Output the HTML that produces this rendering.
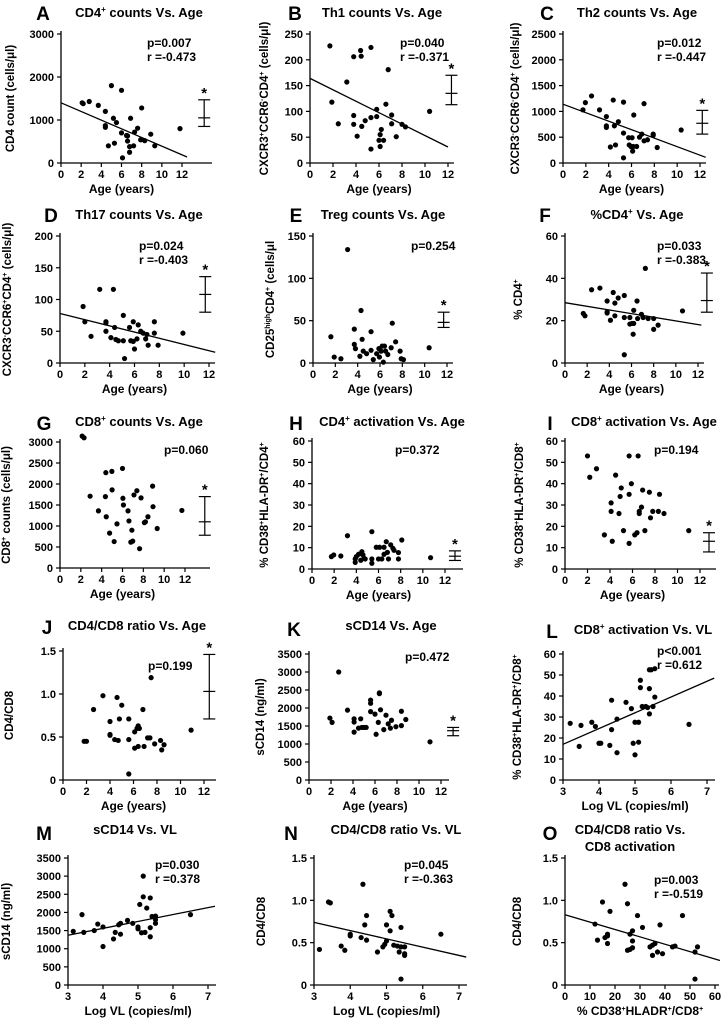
<!DOCTYPE html>
<html><head><meta charset="utf-8"><style>
html,body{margin:0;padding:0;background:#fff}
svg{display:block;font-family:"Liberation Sans",Arial,sans-serif;font-weight:bold}
</style></head><body>
<svg id="fig" width="721" height="1024" viewBox="0 0 721 1024" xmlns="http://www.w3.org/2000/svg"></svg>
<script>
// ---- data ----
const ageA=[2.1,2.2,2.8,3.7,4.4,4.4,4.4,4.7,5.0,5.2,5.3,5.5,6.0,6.0,6.5,6.6,6.6,6.8,6.8,6.9,7.2,7.3,7.6,7.9,8.0,8.3,8.9,9.3,11.8,6.1];
const cd4A=[1400,1380,1430,1340,1200,870,830,400,1800,1040,460,940,1690,700,640,510,630,380,250,1040,400,720,810,540,1280,520,670,400,800,120];
const fitXA=[0,12.5], fitYA=[1400,140];
const barA=[1050,850,1470], barXA=[14.2];

const ageB=[1.73,1.9,2.46,3.2,3.8,3.8,3.8,4.1,4.4,4.45,4.5,4.8,5.3,5.3,5.3,5.8,5.8,6.0,6.1,6.1,6.2,6.4,6.6,6.8,7.1,7.1,7.5,8.0,8.3,10.4];
const th1B=[227,118,76,157,206,92,75,52,218,207,71,82,224,88,27,104,90,44,55,32,65,44,114,181,93,76,51,75,70,100];
const fitXB=[0,12], fitYB=[164,31];
const barB=[135,113,170], barXB=[12.3];

const ageC=[1.75,1.96,2.5,3.2,3.8,3.8,3.8,4.15,4.4,4.5,4.6,4.85,5.3,5.3,5.3,5.75,5.8,5.95,6.05,6.1,6.15,6.2,6.45,6.7,6.9,7.1,7.1,7.4,7.9,7.9,8.25,10.35];
const th2C=[1030,1170,1300,1030,900,720,690,310,1220,720,350,800,1180,580,100,490,350,320,490,230,320,930,320,500,560,430,1150,450,535,560,300,640];
const fitXC=[0,12.5], fitYC=[1140,110];
const barC=[770,560,1020], barXC=[12.2];

const ageD=[1.86,2.0,2.5,3.2,3.7,3.7,3.7,4.1,4.3,4.4,4.5,4.7,5.1,5.1,5.2,5.6,5.7,5.9,5.9,6.0,6.2,6.3,6.5,6.7,6.9,7.0,7.1,7.6,7.6,7.9,9.9];
const th17D=[89,65,42,116,65,63,50,40,116,56,37,35,75,35,7,56,35,65,34,22,38,60,50,47,38,45,28,65,47,28,47];
const fitXD=[0,12.5], fitYD=[78,17];
const barD=[108,80,136], barXD=[11.7];

const ageE=[1.6,1.9,2.5,3.1,3.7,3.7,3.8,4.2,4.3,4.4,4.5,4.8,5.2,5.2,5.4,5.7,5.9,5.95,6.1,6.2,6.4,6.3,6.5,6.7,7.0,7.1,7.4,7.8,7.9,8.1,10.4];
const tregE=[31,7,5,134,40,22,17,8,62,28,14,11,37,15,4,11,17,7,14,20,20,1,14,10,18,47,25,14,5,4,18];
const barE=[48,42,60], barXE=[11.7];

const ageF=[1.65,1.8,2.4,3.15,3.8,3.8,3.8,4.1,4.35,4.5,4.5,4.8,5.35,5.35,5.35,5.85,5.85,6.05,6.15,6.2,6.2,6.5,6.55,6.9,7.05,7.25,7.5,8.0,8.0,8.4,10.6];
const pctF=[23.4,22.3,34.6,35.4,29.3,24.1,23.6,20.2,33.3,28.3,22.3,30.7,31.9,21.5,3.9,21.5,18.4,18.7,13.6,24.9,18.7,29.3,21,23,21.5,44.7,21,21,15.9,17.9,24.6];
const fitXF=[0,12.3], fitYF=[28.5,17.9];
const barF=[29.5,24,42.5], barXF=[12.8];

const ageG=[2.13,2.31,2.89,3.69,4.36,4.44,4.4,4.76,4.98,5.0,5.2,5.47,6.0,6.04,6.09,6.53,6.62,6.8,6.9,6.98,7.1,7.38,7.64,7.78,8.1,8.2,8.44,8.89,8.93,9.33,11.7];
const cd8G=[3140,3100,1710,1360,1700,1220,2270,830,2300,1860,630,1050,2370,1660,1500,1360,1120,616,900,640,1740,1840,460,1670,1080,1100,1220,1950,1460,940,1370];
const barG=[1100,780,1700], barXG=[13.9];

const ageH=[1.75,1.96,2.6,3.2,3.9,3.9,4.0,4.2,4.4,4.5,4.6,4.7,4.8,5.4,5.4,5.4,5.8,6.0,6.1,6.3,6.5,6.5,6.7,6.8,6.9,7.1,7.3,7.4,7.8,7.8,8.1,10.7];
const actH=[5.8,6.6,6.1,15.6,4.7,3.1,5.8,6.9,4.1,8.1,6.6,5.0,4.7,17.5,2.7,4.7,10.2,4.7,10.2,4.7,6.9,10.2,12.8,7.8,4.7,11.3,9.7,8.8,7.7,4.7,13.6,5.3];
const barH=[6,4,8.5], barXH=[12.9];

const ageI=[2.0,2.2,2.8,3.5,4.1,4.1,4.2,4.5,4.8,4.9,5.0,5.2,5.7,5.7,5.7,5.9,6.2,6.4,6.6,6.6,6.8,6.9,7.1,7.5,7.6,7.8,8.3,8.4,8.8,11.0,6.5];
const actI=[53,43,47,16,31,27,13,44,26,34,38,18,12,53,35,40,16,17,27,26,29,37,18,36,24,27,27,35,26,18,53];
const barI=[13,8,17], barXI=[12.8];

const ageJ=[1.8,2.0,2.6,3.4,4.0,4.0,4.0,4.4,4.6,4.7,4.8,5.0,5.6,5.6,5.6,6.1,6.1,6.3,6.4,6.4,6.5,6.8,6.9,7.2,7.4,7.5,7.8,8.3,8.4,8.6,10.9];
const ratioJ=[0.45,0.45,0.82,0.98,0.68,0.53,0.52,0.47,0.96,0.46,0.71,0.87,0.71,0.47,0.07,0.56,0.37,0.6,0.63,0.39,0.6,0.82,0.39,0.49,0.49,1.19,0.42,0.46,0.35,0.41,0.58];
const barJ=[1.03,0.71,1.46], barXJ=[12.45];

const ageK=[1.9,2.1,2.7,3.5,4.1,4.1,4.1,4.5,4.7,4.8,5.0,5.2,5.6,5.6,5.6,6.0,6.1,6.3,6.4,6.4,6.5,6.8,7.0,7.2,7.4,7.5,7.9,8.4,8.4,8.8,11.0];
const scdK=[1720,1600,3000,1940,1700,1610,1330,1440,1700,1460,1460,1460,2220,2130,1900,1830,1270,1600,2420,2400,1950,1400,1800,1560,1440,1660,1480,1910,1510,1680,1060];
const barK=[1370,1230,1460], barXK=[13.1];

const vlL=[3.2,3.45,3.5,3.8,3.9,4.0,4.05,4.3,4.35,4.35,4.5,4.5,4.75,4.9,4.95,5.0,5.0,5.1,5.1,5.15,5.15,5.2,5.3,5.35,5.4,5.45,5.4,5.4,5.5,5.55,5.55,6.5];
const actL=[27,16,26,27.5,25.5,17.5,17.5,16.5,38,24,29,13,37,34,17.5,27.5,12,27.5,18,47.5,44,35,35,34.5,52.5,52.5,43.5,31.5,35,53,39.5,26.5];
const fitXL=[3,7.2], fitYL=[17,48.5];

const vlM=[3.15,3.4,3.45,3.75,3.85,4.0,4.0,4.3,4.35,4.45,4.5,4.5,4.7,4.85,5.0,5.0,5.05,5.1,5.15,5.15,5.2,5.25,5.35,5.35,5.35,5.4,5.5,5.5,5.5,6.5];
const scdM=[1480,1940,1450,1500,1680,1600,1060,1270,1450,1660,1400,1700,1780,1700,1600,1550,2220,1440,2430,3000,1450,2120,2400,1330,1580,1890,1900,1800,1700,1940];
const fitXM=[3,7.2], fitYM=[1370,2170];

const vlN=[3.15,3.4,3.45,3.75,3.85,4.0,4.0,4.3,4.35,4.4,4.45,4.45,4.75,4.9,4.95,5.0,5.0,5.1,5.1,5.15,5.2,5.3,5.35,5.4,5.4,5.4,5.5,5.5,5.5,6.5];
const ratioN=[0.42,0.98,0.97,0.46,0.41,0.6,0.58,0.56,1.19,0.71,0.82,0.53,0.39,0.45,0.48,0.52,0.71,0.87,0.64,0.82,0.47,0.46,0.39,0.45,0.68,0.07,0.35,0.37,0.45,0.6];
const fitXN=[3,7.2], fitYN=[0.74,0.33];

const actO=[12,13,15,16,17,17,17,18,24,25,25,26,26,27,27,27,29,31,34,35,35,36,37,38,39,43,44,47,52,52,53];
const ratioO=[0.72,0.53,0.98,0.56,0.58,0.6,0.49,0.87,1.19,0.96,0.41,0.6,0.42,0.44,0.52,0.64,0.82,0.68,0.45,0.47,0.35,0.49,0.39,0.71,0.37,0.45,0.46,0.82,0.39,0.07,0.45];
const fitXO=[0,62], fitYO=[0.83,0.29];

const ageTicks=[0,2,4,6,8,10,12];
const vlTicks=[3,4,5,6,7];
const pctTicks=[0,10,20,30,40,50,60];

// ---- drawing ----
const NS="http://www.w3.org/2000/svg";
const svg=document.getElementById('fig');
function mk(tag,attrs,parent){const e=document.createElementNS(NS,tag);for(const k in attrs)e.setAttribute(k,attrs[k]);(parent||svg).appendChild(e);return e;}
function txt(s,x,y,size,anchor,parent){const t=mk('text',{x:x,y:y,'font-size':size,'text-anchor':anchor||'middle',fill:'#000'},parent);t.innerHTML=s;return t;}

function panel(c){
  const g=mk('g',{});
  
  
  const sx=v=>c.x0+(v-c.xmin)/(c.xmax-c.xmin)*(c.x1-c.x0);
  const sy=v=>c.y0-(v-c.ymin)/(c.ymax-c.ymin)*(c.y0-c.y1);
  const L=sx(c.xmin);
  const ya=mk('line',{x1:L,y1:c.y0,x2:L,y2:c.y1-3,stroke:'#000','stroke-width':1.3},g);
  
  
  const xa=mk('line',{x1:L,y1:c.y0,x2:c.x1+(c.xext||3),y2:c.y0,stroke:'#000','stroke-width':1.3},g);
  
  
  c.yt.forEach(v=>{const y=sy(v);mk('line',{x1:L-4,y1:y,x2:L,y2:y,stroke:'#000','stroke-width':1.2},g);
    const t=txt(c.ytl?c.ytl(v):v,L-7,y+4,11,'end',g);
    
    });
  c.xt.forEach(v=>{const x=sx(v);mk('line',{x1:x,y1:c.y0,x2:x,y2:c.y0+4,stroke:'#000','stroke-width':1.2},g);
    const t=txt(v,x,c.y0+15,11,'middle',g);
    
    });
  const lt=txt(c.id,c.lx,c.ly,19,'middle',g);
  
  
  c.title.forEach((s,i)=>{const t=txt(s,c.tx,c.ty+i*17,13,'middle',g);
    
    });
  const xt=txt(c.xlab,(c.x0+c.x1)/2,c.y0+30,12,'middle',g);
  
  
  const ycy=(c.y0+c.y1)/2;
  const yt=txt(c.ylab,c.ytx,ycy,11.5,'middle',g);
  yt.setAttribute('transform','rotate(-90 '+c.ytx+' '+ycy+')');
  
  
  c.stats.forEach((s,i)=>{const t=txt(s,c.px,c.py+i*14,12,'start',g);
    
    });
  if(c.fx){const fl=mk('line',{x1:sx(c.fx[0]),y1:sy(c.fy[0]),x2:sx(c.fx[1]),y2:sy(c.fy[1]),stroke:'#000','stroke-width':1.3},g);
    
    }
  c.xs.forEach((v,i)=>{const p=mk('circle',{cx:sx(v),cy:sy(c.ys[i]),r:2.6,fill:'#000'},g);
    
    });
  if(c.bar){const bx=sx(c.barx[0]);const [m,lo,hi]=c.bar;
    const bg=mk('g',{},g);
    
    
    mk('line',{x1:bx,y1:sy(lo),x2:bx,y2:sy(hi),stroke:'#000','stroke-width':1.2},bg);
    [lo,m,hi].forEach(v=>mk('line',{x1:bx-6,y1:sy(v),x2:bx+6,y2:sy(v),stroke:'#000','stroke-width':1.2},bg));
    const st=txt('*',bx,sy(hi)-2,15,'middle',bg);
    
    }
}
const AGE='Age (years)', VL='Log VL (copies/ml)';
const rng=(a,b,s)=>{const r=[];for(let v=a;v<=b+1e-9;v+=s)r.push(+v.toFixed(2));return r;};
const r0=x=>x===0?'0':x.toFixed(1);
const P=[
 {id:'A',x0:61,x1:182,xmin:0,xmax:12,y0:163,y1:34,ymin:0,ymax:3000,yt:rng(0,3000,1000),xt:ageTicks,xs:ageA,ys:cd4A,fx:fitXA,fy:fitYA,bar:barA,barx:barXA,lx:43,ly:20,tx:139,ty:17,title:['CD4<tspan font-size="8" dy="-5">+</tspan><tspan dy="5"> counts Vs. Age</tspan>'],xlab:AGE,ylab:'CD4  count (cells/μl)',ytx:14,px:147,py:47,stats:['p=0.007','r =-0.473'],xext:30},
 {id:'B',x0:310,x1:448,xmin:0,xmax:12,y0:163,y1:34,ymin:0,ymax:250,yt:rng(0,250,50),xt:ageTicks,xs:ageB,ys:th1B,fx:fitXB,fy:fitYB,bar:barB,barx:barXB,lx:295,ly:20,tx:382,ty:17,title:['Th1 counts Vs. Age'],xlab:AGE,ylab:'CXCR3<tspan font-size="7" dy="-4">+</tspan><tspan dy="4">CCR6</tspan><tspan font-size="7" dy="-4">-</tspan><tspan dy="4">CD4</tspan><tspan font-size="7" dy="-4">+</tspan><tspan dy="4"> (cells/μl)</tspan>',ytx:268,px:400,py:47,stats:['p=0.040','r =-0.371'],xext:6},
 {id:'C',x0:563,x1:700,xmin:0,xmax:12,y0:163,y1:34,ymin:0,ymax:2500,yt:rng(0,2500,500),xt:ageTicks,xs:ageC,ys:th2C,fx:fitXC,fy:fitYC,bar:barC,barx:barXC,lx:547,ly:20,tx:637,ty:17,title:['Th2  counts Vs. Age'],xlab:AGE,ylab:'CXCR3<tspan font-size="7" dy="-4">-</tspan><tspan dy="4">CCR6</tspan><tspan font-size="7" dy="-4">-</tspan><tspan dy="4">CD4</tspan><tspan font-size="7" dy="-4">+</tspan><tspan dy="4"> (cells/μl)</tspan>',ytx:519,px:657,py:47,stats:['p=0.012','r =-0.447'],xext:6},
 {id:'D',x0:60,x1:209,xmin:0,xmax:12,y0:363,y1:236,ymin:0,ymax:200,yt:rng(0,200,50),xt:ageTicks,xs:ageD,ys:th17D,fx:fitXD,fy:fitYD,bar:barD,barx:barXD,lx:51,ly:222,tx:139,ty:219,title:['Th17 counts Vs. Age'],xlab:AGE,ylab:'CXCR3<tspan font-size="7" dy="-4">-</tspan><tspan dy="4">CCR6</tspan><tspan font-size="7" dy="-4">+</tspan><tspan dy="4">CD4</tspan><tspan font-size="7" dy="-4">+</tspan><tspan dy="4"> (cells/μl)</tspan>',ytx:11,px:139,py:250,stats:['p=0.024','r =-0.403'],xext:6},
 {id:'E',x0:313,x1:447,xmin:0,xmax:12,y0:363,y1:236,ymin:0,ymax:150,yt:rng(0,150,50),xt:ageTicks,xs:ageE,ys:tregE,bar:barE,barx:barXE,lx:296,ly:222,tx:383,ty:219,title:['Treg counts Vs. Age'],xlab:AGE,ylab:'CD25<tspan font-size="7" dy="-4">high</tspan><tspan dy="4">CD4</tspan><tspan font-size="7" dy="-4">+</tspan><tspan dy="4"> (cells/μl</tspan>',ytx:274,px:411,py:250,stats:['p=0.254'],xext:6},
 {id:'F',x0:565,x1:698,xmin:0,xmax:12,y0:363,y1:236,ymin:0,ymax:60,yt:rng(0,60,20),xt:ageTicks,xs:ageF,ys:pctF,fx:fitXF,fy:fitYF,bar:barF,barx:barXF,lx:545,ly:222,tx:637,ty:219,title:['%CD4<tspan font-size="8" dy="-5">+</tspan><tspan dy="5"> Vs. Age</tspan>'],xlab:AGE,ylab:'% CD4<tspan font-size="7" dy="-4">+</tspan>',ytx:522,px:657,py:250,stats:['p=0.033','r =-0.383'],xext:6},
 {id:'G',x0:60,x1:185,xmin:0,xmax:12,y0:568,y1:442,ymin:0,ymax:3000,yt:rng(0,3000,500),xt:ageTicks,xs:ageG,ys:cd8G,bar:barG,barx:barXG,lx:44,ly:430,tx:139,ty:426,title:['CD8<tspan font-size="8" dy="-5">+</tspan><tspan dy="5"> counts Vs. Age</tspan>'],xlab:AGE,ylab:'CD8<tspan font-size="7" dy="-4">+</tspan><tspan dy="4"> counts (cells/μl)</tspan>',ytx:10,px:164,py:454,stats:['p=0.060'],xext:25},
 {id:'H',x0:312,x1:445,xmin:0,xmax:12,y0:569,y1:441,ymin:0,ymax:60,yt:pctTicks,xt:ageTicks,xs:ageH,ys:actH,bar:barH,barx:barXH,lx:296,ly:430,tx:392,ty:426,title:['CD4<tspan font-size="8" dy="-5">+</tspan><tspan dy="5"> activation Vs. Age</tspan>'],xlab:AGE,ylab:'% CD38<tspan font-size="7" dy="-4">+</tspan><tspan dy="4">HLA-DR</tspan><tspan font-size="7" dy="-4">+</tspan><tspan dy="4">/CD4</tspan><tspan font-size="7" dy="-4">+</tspan>',ytx:268,px:395,py:454,stats:['p=0.372'],xext:18},
 {id:'I',x0:565,x1:700,xmin:0,xmax:12,y0:569,y1:441,ymin:0,ymax:60,yt:pctTicks,xt:ageTicks,xs:ageI,ys:actI,bar:barI,barx:barXI,lx:550,ly:430,tx:644,ty:426,title:['CD8<tspan font-size="8" dy="-5">+</tspan><tspan dy="5"> activation Vs. Age</tspan>'],xlab:AGE,ylab:'% CD38<tspan font-size="7" dy="-4">+</tspan><tspan dy="4">HLA-DR</tspan><tspan font-size="7" dy="-4">+</tspan><tspan dy="4">/CD8</tspan><tspan font-size="7" dy="-4">+</tspan>',ytx:523,px:654,py:454,stats:['p=0.194'],xext:16},
 {id:'J',x0:63,x1:204,xmin:0,xmax:12,y0:780,y1:651,ymin:0,ymax:1.5,yt:[0,0.5,1,1.5],ytl:r0,xt:ageTicks,xs:ageJ,ys:ratioJ,bar:barJ,barx:barXJ,lx:47,ly:634,tx:137,ty:630,title:['CD4/CD8 ratio Vs. Age'],xlab:AGE,ylab:'CD4/CD8',ytx:13,px:148,py:670,stats:['p=0.199'],xext:12},
 {id:'K',x0:309,x1:441,xmin:0,xmax:12,y0:780,y1:654,ymin:0,ymax:3500,yt:rng(0,3500,500),xt:ageTicks,xs:ageK,ys:scdK,bar:barK,barx:barXK,lx:294,ly:636,tx:391,ty:630,title:['sCD14 Vs. Age'],xlab:AGE,ylab:'sCD14 (ng/ml)',ytx:264,px:405,py:661,stats:['p=0.472'],xext:8},
 {id:'L',x0:563,x1:707,xmin:3,xmax:7,y0:780,y1:654,ymin:0,ymax:60,yt:pctTicks,xt:vlTicks,xs:vlL,ys:actL,fx:fitXL,fy:fitYL,lx:552,ly:638,tx:643,ty:634,title:['CD8<tspan font-size="8" dy="-5">+</tspan><tspan dy="5"> activation Vs. VL</tspan>'],xlab:VL,ylab:'% CD38<tspan font-size="7" dy="-4">+</tspan><tspan dy="4">HLA-DR</tspan><tspan font-size="7" dy="-4">+</tspan><tspan dy="4">/CD8</tspan><tspan font-size="7" dy="-4">+</tspan>',ytx:521,px:657,py:655,stats:['p&lt;0.001','r =0.612'],xext:8},
 {id:'M',x0:68,x1:208,xmin:3,xmax:7,y0:985,y1:858,ymin:0,ymax:3500,yt:rng(0,3500,500),xt:vlTicks,xs:vlM,ys:scdM,fx:fitXM,fy:fitYM,lx:44,ly:840,tx:135,ty:834,title:['sCD14  Vs. VL'],xlab:VL,ylab:'sCD14 (ng/ml)',ytx:10,px:155,py:869,stats:['p=0.030','r =0.378'],xext:8},
 {id:'N',x0:314,x1:459,xmin:3,xmax:7,y0:985,y1:858,ymin:0,ymax:1.5,yt:[0,0.5,1,1.5],ytl:r0,xt:vlTicks,xs:vlN,ys:ratioN,fx:fitXN,fy:fitYN,lx:291,ly:840,tx:396,ty:834,title:['CD4/CD8 ratio Vs. VL'],xlab:VL,ylab:'CD4/CD8',ytx:265,px:404,py:869,stats:['p=0.045','r =-0.363'],xext:8},
 {id:'O',x0:565,x1:715,xmin:0,xmax:60,y0:985,y1:858,ymin:0,ymax:1.5,yt:[0,0.5,1,1.5],ytl:r0,xt:pctTicks,xs:actO,ys:ratioO,fx:fitXO,fy:fitYO,lx:550,ly:840,tx:630,ty:834,title:['CD4/CD8 ratio Vs.','CD8 activation'],xlab:'% CD38<tspan font-size="7" dy="-4">+</tspan><tspan dy="4">HLADR</tspan><tspan font-size="7" dy="-4">+</tspan><tspan dy="4">/CD8</tspan><tspan font-size="7" dy="-4">+</tspan>',ylab:'CD4/CD8',ytx:521,px:654,py:884,stats:['p=0.003','r =-0.519'],xext:4}
];
P.forEach(panel);
</script>
</body></html>
